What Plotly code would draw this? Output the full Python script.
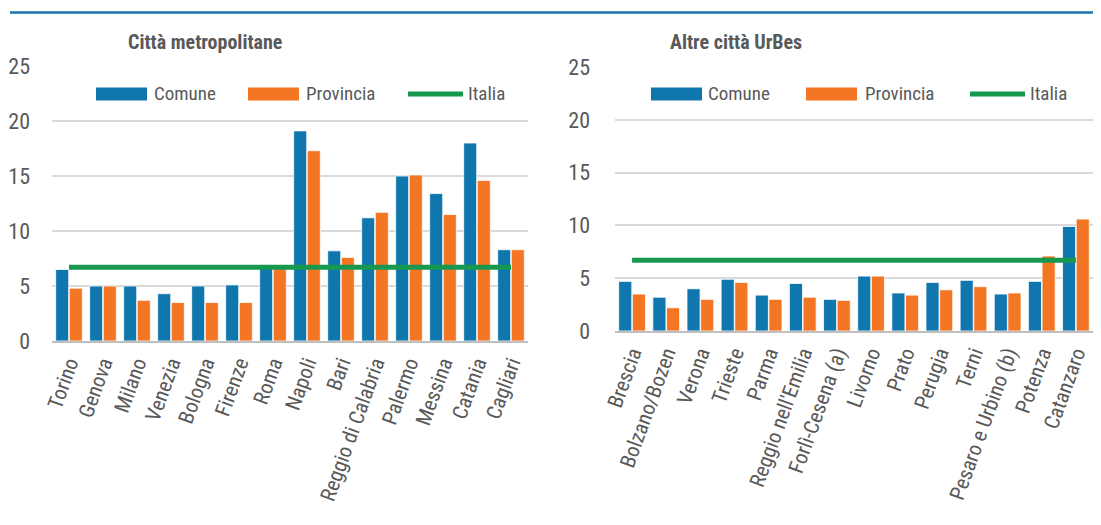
import plotly.graph_objects as go

# Città metropolitane
metro_cities = ["Torino", "Genova", "Milano", "Venezia", "Bologna", "Firenze", "Roma",
                "Napoli", "Bari", "Reggio di Calabria", "Palermo", "Messina", "Catania", "Cagliari"]
metro_comune = [6.5, 5.0, 5.0, 4.3, 5.0, 5.1, 6.9, 19.1, 8.2, 11.2, 15.0, 13.4, 18.0, 8.3]
metro_provincia = [4.8, 5.0, 3.7, 3.5, 3.5, 3.5, 6.7, 17.3, 7.6, 11.7, 15.1, 11.5, 14.6, 8.3]
metro_italia = 6.7

# Altre città UrBes
other_cities = ["Brescia", "Bolzano/Bozen", "Verona", "Trieste", "Parma", "Reggio nell'Emilia",
                "Forlì-Cesena (a)", "Livorno", "Prato", "Perugia", "Terni", "Pesaro e Urbino (b)",
                "Potenza", "Catanzaro"]
other_comune = [4.7, 3.2, 4.0, 4.9, 3.4, 4.5, 3.0, 5.2, 3.6, 4.6, 4.8, 3.5, 4.7, 9.9]
other_provincia = [3.5, 2.2, 3.0, 4.6, 3.0, 3.2, 2.9, 5.2, 3.4, 3.9, 4.2, 3.6, 7.1, 10.6]
other_italia = 6.7

BLUE = "#0f77ae"
ORANGE = "#f47625"
GREEN = "#16994f"
TEXT = "#595959"
GRID = "#d9d9d9"
FONT = "Roboto Condensed, Noto Sans Condensed, Liberation Sans Narrow, DejaVu Sans Condensed, Roboto, sans-serif"

fig = go.Figure()

panels = [
    (metro_cities, metro_comune, metro_provincia, metro_italia, "x", "y"),
    (other_cities, other_comune, other_provincia, other_italia, "x2", "y2"),
]
for cats, com, prov, ita, xa, ya in panels:
    fig.add_trace(go.Bar(x=cats, y=com, name="Comune", marker=dict(color=BLUE, line=dict(color="white", width=0.8)),
                         xaxis=xa, yaxis=ya, showlegend=False))
    fig.add_trace(go.Bar(x=cats, y=prov, name="Provincia", marker=dict(color=ORANGE, line=dict(color="white", width=0.8)),
                         xaxis=xa, yaxis=ya, showlegend=False))
    fig.add_trace(go.Scatter(x=[cats[0], cats[-1]], y=[ita, ita], mode="lines", name="Italia",
                             line=dict(color=GREEN, width=5), xaxis=xa, yaxis=ya, showlegend=False))

# page body has an 8px margin, so the figure is a bit smaller and positions are shifted
OFF = 8
W, H = 1101 - OFF, 525 - OFF

def px(x):
    return (x - OFF) / W

def py(y):
    return 1 - (y - OFF) / H

xcommon = dict(showgrid=False, showline=True, linecolor="#bfbfbf", linewidth=2, ticks="",
               tickangle=-70, tickfont=dict(family=FONT, size=21, color=TEXT), automargin=False)
ycommon = dict(range=[0, 25], dtick=5, showgrid=True, gridcolor=GRID, gridwidth=1.5, zeroline=False,
               showline=False, ticks="", tickfont=dict(family=FONT, size=22, color=TEXT), automargin=False,
               fixedrange=True)

fig.update_layout(
    width=W, height=H,
    margin=dict(l=0, r=0, t=0, b=0),
    paper_bgcolor="white", plot_bgcolor="white",
    barmode="group", bargap=0.2, bargroupgap=0.04,
    xaxis=dict(domain=[px(52), px(528)], anchor="y", **xcommon),
    yaxis=dict(domain=[py(341), py(66)], anchor="x", ticklabelstandoff=21, **ycommon),
    xaxis2=dict(domain=[px(615), px(1093)], anchor="y2", **xcommon),
    yaxis2=dict(domain=[py(331), py(67)], anchor="x2", ticklabelstandoff=24, **ycommon),
    showlegend=False,
)

shapes = [dict(type="line", xref="paper", yref="paper", x0=px(10), x1=px(1097), y0=py(12.5), y1=py(12.5),
               line=dict(color="#1a75ae", width=2.5))]
annotations = [
    dict(text="<b>Città metropolitane</b>", x=px(205), y=py(42), xref="paper", yref="paper",
         xanchor="center", yanchor="middle", showarrow=False, font=dict(family=FONT, size=20, color=TEXT)),
    dict(text="<b>Altre città UrBes</b>", x=px(736), y=py(42), xref="paper", yref="paper",
         xanchor="center", yanchor="middle", showarrow=False, font=dict(family=FONT, size=20, color=TEXT)),
]

# custom legends (symbol x0, x1, text x)
legend_items = [
    [(96, 147, 152, "Comune", BLUE, "rect"), (248, 299, 304, "Provincia", ORANGE, "rect"),
     (408, 463, 466, "Italia", GREEN, "line")],
    [(651, 702, 706, "Comune", BLUE, "rect"), (806, 857, 863, "Provincia", ORANGE, "rect"),
     (970, 1025, 1028, "Italia", GREEN, "line")],
]
ly = 94
for items in legend_items:
    for x0, x1, tx, label, color, kind in items:
        if kind == "rect":
            shapes.append(dict(type="rect", xref="paper", yref="paper", x0=px(x0), x1=px(x1),
                               y0=py(ly + 6.5), y1=py(ly - 6.5), fillcolor=color, line=dict(width=0)))
        else:
            shapes.append(dict(type="line", xref="paper", yref="paper", x0=px(x0), x1=px(x1),
                               y0=py(ly), y1=py(ly), line=dict(color=color, width=5)))
        annotations.append(dict(text=label, x=px(tx), y=py(ly), xref="paper", yref="paper",
                                xanchor="left", yanchor="middle", showarrow=False,
                                font=dict(family=FONT, size=19, color=TEXT)))

fig.update_layout(shapes=shapes, annotations=annotations)

fig.write_html("out.html")
